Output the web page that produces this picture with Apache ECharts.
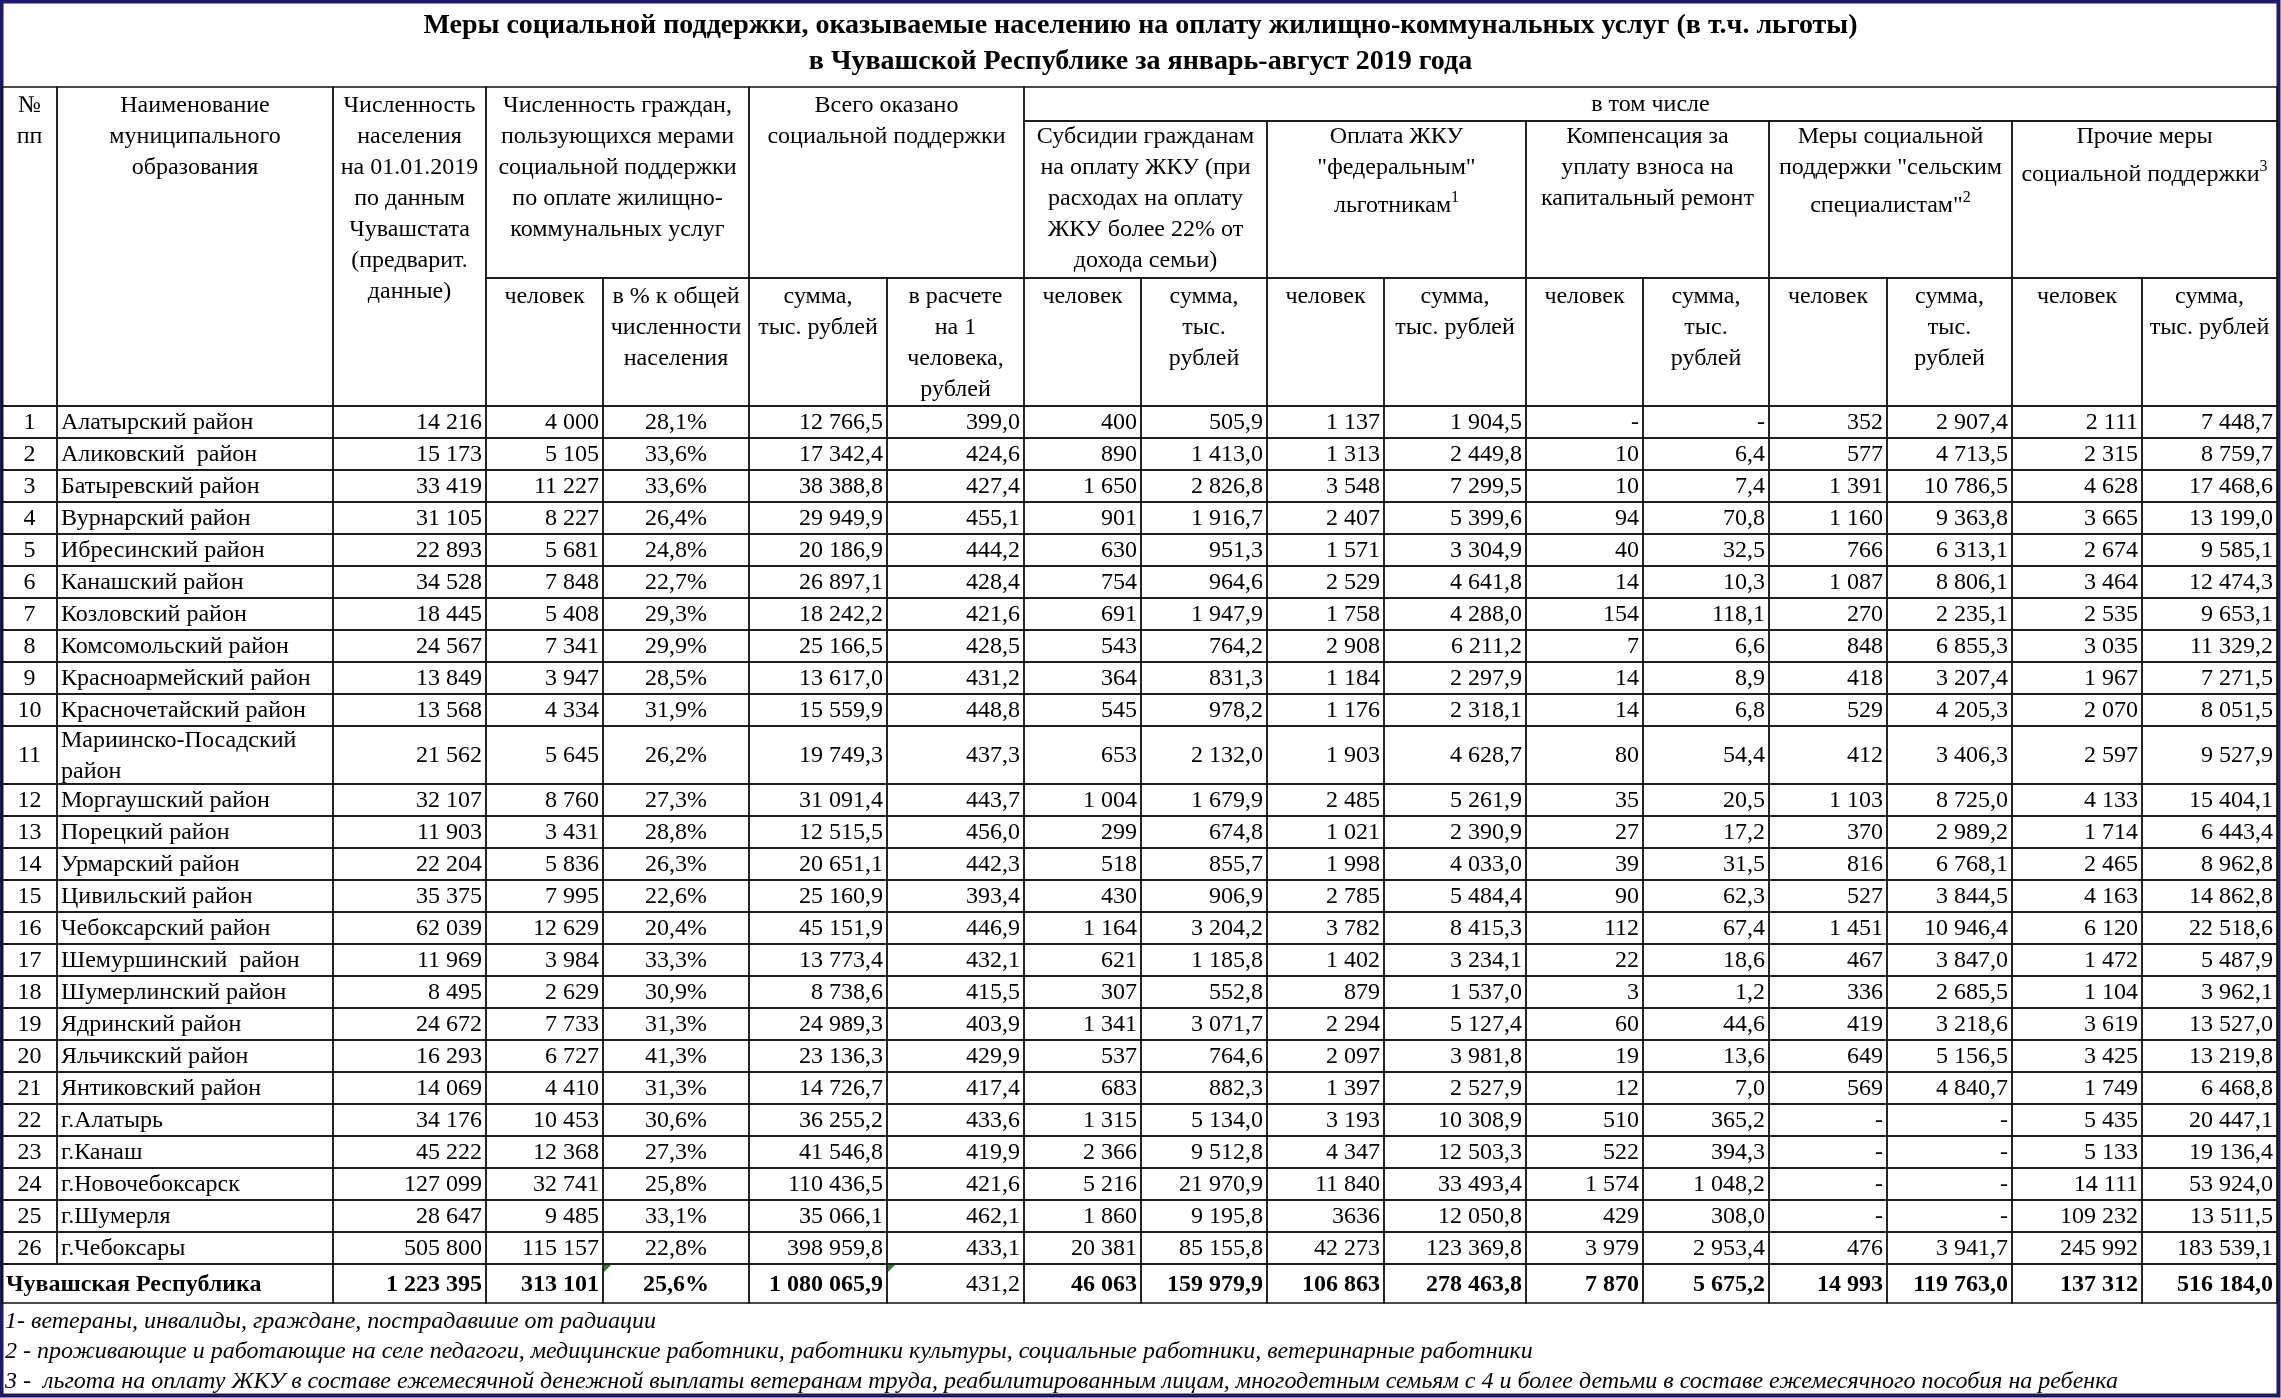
<!DOCTYPE html>
<html>
<head>
<meta charset="utf-8">
<script src="https://cdn.jsdelivr.net/npm/echarts@6/dist/echarts.min.js"></script>
<style>
  html, body { margin: 0; padding: 0; background: #fff; }
  #chart { width: 2281px; height: 1398px; }
</style>
</head>
<body>
<div id="chart"></div>
<script>
  const rowNums = [1, 2, 3, 4, 5, 6, 7, 8, 9, 10, 11, 12, 13, 14, 15, 16, 17, 18, 19, 20, 21, 22, 23, 24, 25, 26];
  const districts = [
    'Алатырский район', 'Аликовский  район', 'Батыревский район', 'Вурнарский район',
    'Ибресинский район', 'Канашский район', 'Козловский район', 'Комсомольский район',
    'Красноармейский район', 'Красночетайский район', 'Мариинско-Посадский\nрайон',
    'Моргаушский район', 'Порецкий район', 'Урмарский район', 'Цивильский район',
    'Чебоксарский район', 'Шемуршинский  район', 'Шумерлинский район', 'Ядринский район',
    'Яльчикский район', 'Янтиковский район', 'г.Алатырь', 'г.Канаш', 'г.Новочебоксарск',
    'г.Шумерля', 'г.Чебоксары',
  ];
  const population = [14216, 15173, 33419, 31105, 22893, 34528, 18445, 24567, 13849, 13568, 21562, 32107, 11903,
    22204, 35375, 62039, 11969, 8495, 24672, 16293, 14069, 34176, 45222, 127099, 28647, 505800];
  const supportPeople = [4000, 5105, 11227, 8227, 5681, 7848, 5408, 7341, 3947, 4334, 5645, 8760, 3431,
    5836, 7995, 12629, 3984, 2629, 7733, 6727, 4410, 10453, 12368, 32741, 9485, 115157];
  const supportShare = [28.1, 33.6, 33.6, 26.4, 24.8, 22.7, 29.3, 29.9, 28.5, 31.9, 26.2, 27.3, 28.8,
    26.3, 22.6, 20.4, 33.3, 30.9, 31.3, 41.3, 31.3, 30.6, 27.3, 25.8, 33.1, 22.8];
  const totalSum = [12766.5, 17342.4, 38388.8, 29949.9, 20186.9, 26897.1, 18242.2, 25166.5, 13617.0, 15559.9,
    19749.3, 31091.4, 12515.5, 20651.1, 25160.9, 45151.9, 13773.4, 8738.6, 24989.3, 23136.3, 14726.7,
    36255.2, 41546.8, 110436.5, 35066.1, 398959.8];
  const perPerson = [399.0, 424.6, 427.4, 455.1, 444.2, 428.4, 421.6, 428.5, 431.2, 448.8, 437.3, 443.7, 456.0,
    442.3, 393.4, 446.9, 432.1, 415.5, 403.9, 429.9, 417.4, 433.6, 419.9, 421.6, 462.1, 433.1];
  const subsidyPeople = [400, 890, 1650, 901, 630, 754, 691, 543, 364, 545, 653, 1004, 299,
    518, 430, 1164, 621, 307, 1341, 537, 683, 1315, 2366, 5216, 1860, 20381];
  const subsidySum = [505.9, 1413.0, 2826.8, 1916.7, 951.3, 964.6, 1947.9, 764.2, 831.3, 978.2, 2132.0, 1679.9,
    674.8, 855.7, 906.9, 3204.2, 1185.8, 552.8, 3071.7, 764.6, 882.3, 5134.0, 9512.8, 21970.9, 9195.8, 85155.8];
  // '3636' is printed without a group space in the source
  const federalPeople = [1137, 1313, 3548, 2407, 1571, 2529, 1758, 2908, 1184, 1176, 1903, 2485, 1021,
    1998, 2785, 3782, 1402, 879, 2294, 2097, 1397, 3193, 4347, 11840, '3636', 42273];
  const federalSum = [1904.5, 2449.8, 7299.5, 5399.6, 3304.9, 4641.8, 4288.0, 6211.2, 2297.9, 2318.1, 4628.7,
    5261.9, 2390.9, 4033.0, 5484.4, 8415.3, 3234.1, 1537.0, 5127.4, 3981.8, 2527.9, 10308.9, 12503.3,
    33493.4, 12050.8, 123369.8];
  const repairPeople = [null, 10, 10, 94, 40, 14, 154, 7, 14, 14, 80, 35, 27,
    39, 90, 112, 22, 3, 60, 19, 12, 510, 522, 1574, 429, 3979];
  const repairSum = [null, 6.4, 7.4, 70.8, 32.5, 10.3, 118.1, 6.6, 8.9, 6.8, 54.4, 20.5, 17.2,
    31.5, 62.3, 67.4, 18.6, 1.2, 44.6, 13.6, 7.0, 365.2, 394.3, 1048.2, 308.0, 2953.4];
  const ruralPeople = [352, 577, 1391, 1160, 766, 1087, 270, 848, 418, 529, 412, 1103, 370,
    816, 527, 1451, 467, 336, 419, 649, 569, null, null, null, null, 476];
  const ruralSum = [2907.4, 4713.5, 10786.5, 9363.8, 6313.1, 8806.1, 2235.1, 6855.3, 3207.4, 4205.3, 3406.3,
    8725.0, 2989.2, 6768.1, 3844.5, 10946.4, 3847.0, 2685.5, 3218.6, 5156.5, 4840.7, null, null, null, null, 3941.7];
  const otherPeople = [2111, 2315, 4628, 3665, 2674, 3464, 2535, 3035, 1967, 2070, 2597, 4133, 1714,
    2465, 4163, 6120, 1472, 1104, 3619, 3425, 1749, 5435, 5133, 14111, 109232, 245992];
  const otherSum = [7448.7, 8759.7, 17468.6, 13199.0, 9585.1, 12474.3, 9653.1, 11329.2, 7271.5, 8051.5, 9527.9,
    15404.1, 6443.4, 8962.8, 14862.8, 22518.6, 5487.9, 3962.1, 13527.0, 13219.8, 6468.8, 20447.1, 19136.4,
    53924.0, 13511.5, 183539.1];
  const totalLabel = 'Чувашская Республика';
  const totals = [1223395, 313101, 25.6, 1080065.9, 431.2, 46063, 159979.9, 106863, 278463.8,
    7870, 5675.2, 14993, 119763.0, 137312, 516184.0];

  const titleText = 'Меры социальной поддержки, оказываемые населению на оплату жилищно-коммунальных услуг (в т.ч. льготы)\n' +
    'в Чувашской Республике за январь-август 2019 года';
  const footnotes = [
    '1- ветераны, инвалиды, граждане, пострадавшие от радиации',
    '2 - проживающие и работающие на селе педагоги, медицинские работники, работники культуры, социальные работники, ветеринарные работники',
    '3 -  льгота на оплату ЖКУ в составе ежемесячной денежной выплаты ветеранам труда, реабилитированным лицам, многодетным семьям с 4 и более детьми в составе ежемесячного пособия на ребенка',
  ];

  const groupHeaders = [
    'Численность граждан,\nпользующихся мерами\nсоциальной поддержки\nпо оплате жилищно-\nкоммунальных услуг',
    'Всего оказано\nсоциальной поддержки',
  ];
  // {m|...}{s|n} marks a line ending with a footnote superscript
  const subGroupHeaders = [
    'Субсидии гражданам\nна оплату ЖКУ (при\nрасходах на оплату\nЖКУ более 22% от\nдохода семьи)',
    'Оплата ЖКУ\n"федеральным"\n{m|льготникам}{s|1}',
    'Компенсация за\nуплату взноса на\nкапитальный ремонт',
    'Меры социальной\nподдержки "сельским\n{m|специалистам"}{s|2}',
    'Прочие меры\n{m|социальной поддержки}{s|3}',
  ];
  const subHeaders = ['человек', 'в % к общей\nчисленности\nнаселения', 'сумма,\nтыс. рублей',
    'в расчете\nна 1\nчеловека,\nрублей', 'человек', 'сумма,\nтыс.\nрублей', 'человек', 'сумма,\nтыс. рублей',
    'человек', 'сумма,\nтыс.\nрублей', 'человек', 'сумма,\nтыс.\nрублей', 'человек', 'сумма,\nтыс. рублей'];

  // --- layout (axis units = picture pixels) ---
  const colEdges = [2, 57, 333, 486, 603, 749, 887, 1024, 1141, 1267, 1384, 1526, 1643, 1769, 1887, 2012, 2142, 2277];
  const headEdges = [87, 121, 278, 406];
  const rowHeights = rowNums.map((n) => (n === 11 ? 58 : 32));
  const totalHeight = 39;
  const bodyEdges = [headEdges[3]];
  rowHeights.forEach((h) => bodyEdges.push(bodyEdges[bodyEdges.length - 1] + h));
  bodyEdges.push(bodyEdges[bodyEdges.length - 1] + totalHeight);

  function fmt(v, digits) {
    if (v === null || v === undefined) return '-';
    if (typeof v === 'string') return v;
    const parts = v.toFixed(digits).split('.');
    const grouped = parts[0].replace(/\B(?=(\d{3})+(?!\d))/g, ' ');
    return parts[1] ? grouped + ',' + parts[1] : grouped;
  }

  const valueCols = [population, supportPeople, supportShare, totalSum, perPerson, subsidyPeople, subsidySum,
    federalPeople, federalSum, repairPeople, repairSum, ruralPeople, ruralSum, otherPeople, otherSum];
  const colDigits = [0, 0, 1, 1, 1, 0, 1, 0, 1, 0, 1, 0, 1, 0, 1];

  const cells = [];
  function add(c0, c1, y0, y1, text, opts) {
    cells.push(Object.assign({ c0, c1, y0, y1, text, align: 'center', valign: 'top', padTop: 3, bold: false }, opts || {}));
  }

  // header
  add(0, 0, headEdges[0], headEdges[3], '№\nпп');
  add(1, 1, headEdges[0], headEdges[3], 'Наименование\nмуниципального\nобразования');
  add(2, 2, headEdges[0], headEdges[3], 'Численность\nнаселения\nна 01.01.2019\nпо данным\nЧувашстата\n(предварит.\nданные)');
  add(3, 4, headEdges[0], headEdges[2], groupHeaders[0]);
  add(5, 6, headEdges[0], headEdges[2], groupHeaders[1]);
  add(7, 16, headEdges[0], headEdges[1], 'в том числе', { valign: 'middle' });
  subGroupHeaders.forEach((t, i) => add(7 + i * 2, 8 + i * 2, headEdges[1], headEdges[2], t, { padTop: 0 }));
  subHeaders.forEach((t, i) => add(3 + i, 3 + i, headEdges[2], headEdges[3], t));

  // body
  rowNums.forEach((n, i) => {
    const y0 = bodyEdges[i];
    const y1 = bodyEdges[i + 1];
    add(0, 0, y0, y1, String(n), { valign: 'middle' });
    add(1, 1, y0, y1, districts[i], { valign: 'middle', align: 'left' });
    valueCols.forEach((col, k) => {
      const pct = col === supportShare;
      add(2 + k, 2 + k, y0, y1, fmt(col[i], colDigits[k]) + (pct ? '%' : ''),
        { valign: 'middle', align: pct ? 'center' : 'right' });
    });
  });

  // total row
  const ty0 = bodyEdges[rowNums.length];
  const ty1 = bodyEdges[rowNums.length + 1];
  add(0, 1, ty0, ty1, totalLabel, { valign: 'middle', align: 'left', bold: true });
  totals.forEach((v, k) => {
    const pct = k === 2;
    add(2 + k, 2 + k, ty0, ty1, fmt(v, colDigits[k]) + (pct ? '%' : ''), {
      valign: 'middle',
      align: pct ? 'center' : 'right',
      bold: k !== 4,
      flag: k === 2 || k === 4,
    });
  });

  const FONT = "'Liberation Serif', 'Times New Roman', serif";

  function renderCell(params, api) {
    const cell = cells[params.dataIndex];
    const p0 = api.coord([colEdges[cell.c0], cell.y0]);
    const p1 = api.coord([colEdges[cell.c1 + 1], cell.y1]);
    let tx = (p0[0] + p1[0]) / 2;
    if (cell.align === 'left') tx = p0[0] + 4;
    if (cell.align === 'right') tx = p1[0] - 4;
    const ty = cell.valign === 'top' ? p0[1] + cell.padTop : (p0[1] + p1[1]) / 2 + 1;
    const children = [
      {
        type: 'rect',
        shape: { x: p0[0], y: p0[1], width: p1[0] - p0[0], height: p1[1] - p0[1] },
        style: { fill: null, stroke: '#111', lineWidth: 1.4 },
      },
      {
        type: 'text',
        style: {
          text: cell.text,
          x: tx,
          y: ty,
          align: cell.align,
          verticalAlign: cell.valign,
          fontFamily: FONT,
          fontSize: 24,
          fontWeight: cell.bold ? 'bold' : 'normal',
          lineHeight: 31,
          fill: '#000',
          rich: {
            m: { fontFamily: FONT, fontSize: 24, lineHeight: 46, fill: '#000' },
            s: { fontFamily: FONT, fontSize: 16, verticalAlign: 'top', padding: [7, 0, 0, 0], fill: '#000' },
          },
        },
      },
    ];
    if (cell.flag) {
      children.push({
        type: 'polygon',
        shape: { points: [[p0[0] + 1, p0[1] + 1], [p0[0] + 8, p0[1] + 1], [p0[0] + 1, p0[1] + 8]] },
        style: { fill: '#2e7d32' },
      });
    }
    return { type: 'group', children };
  }

  const chart = echarts.init(document.getElementById('chart'));
  chart.setOption({
    animation: false,
    backgroundColor: '#fff',
    title: [
      {
        text: titleText,
        left: 'center',
        top: 8,
        padding: 0,
        textStyle: { fontFamily: FONT, fontWeight: 'bold', fontSize: 28, lineHeight: 36, color: '#000' },
      },
      {
        text: footnotes.join('\n'),
        left: 5,
        top: 1307,
        padding: 0,
        textStyle: { fontFamily: FONT, fontStyle: 'italic', fontWeight: 'normal', fontSize: 24, lineHeight: 30, color: '#000' },
      },
    ],
    grid: { left: 0, right: 0, top: 0, bottom: 0 },
    xAxis: { type: 'value', min: 0, max: 2281, show: false },
    yAxis: { type: 'value', min: 0, max: 1398, inverse: true, show: false },
    series: [
      {
        type: 'custom',
        coordinateSystem: 'cartesian2d',
        renderItem: renderCell,
        data: cells.map((c, i) => [i]),
        clip: false,
        silent: true,
      },
    ],
    graphic: [
      {
        type: 'rect',
        shape: { x: 1.5, y: 1.5, width: 2277, height: 1394 },
        style: { fill: null, stroke: '#1a1a66', lineWidth: 4 },
        silent: true,
      },
    ],
  });
</script>
</body>
</html>
